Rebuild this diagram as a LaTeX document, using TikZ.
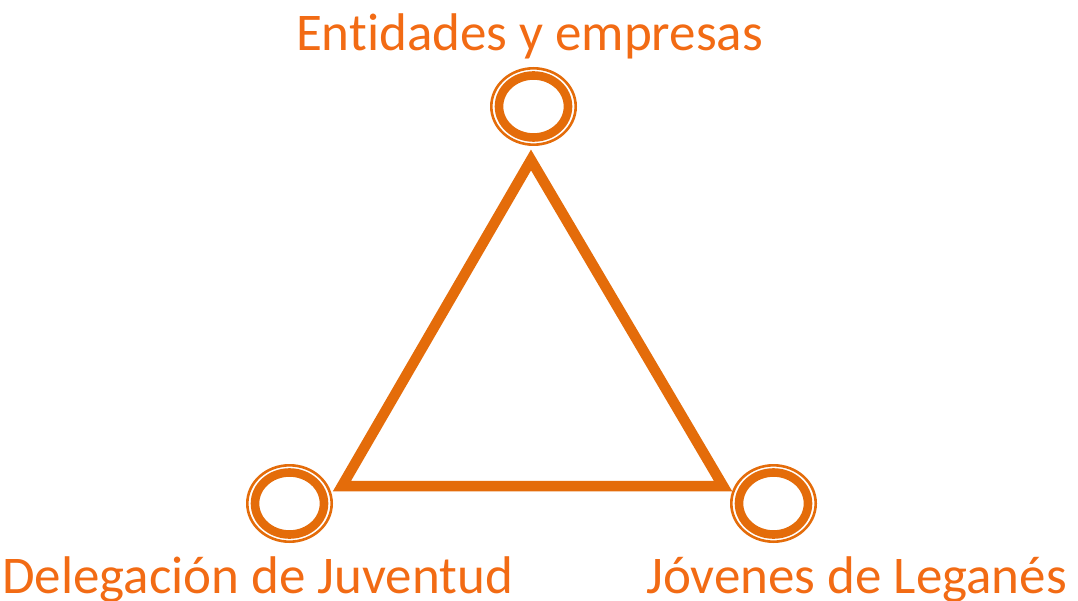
\documentclass[tikz,border=0pt]{standalone}
\usepackage{fontspec}
\setmainfont[Ligatures={NoCommon}]{Carlito}
\usetikzlibrary{shapes.geometric}
\definecolor{shapeor}{HTML}{E46C0A}
\definecolor{textor}{HTML}{F26B14}
\tikzset{
  lbl/.style={anchor=base, inner sep=0pt, text=textor, font=\fontsize{53}{53}\selectfont},
  ringouter/.style={ellipse, draw=shapeor, line width=2.6pt, minimum width=84.4pt, minimum height=76.4pt, inner sep=0pt, outer sep=0pt},
  ringinner/.style={ellipse, draw=shapeor, fill=white, line width=8.6pt, minimum width=69pt, minimum height=62pt, inner sep=0pt, outer sep=0pt},
  tri/.style={draw=shapeor, line width=10.5pt, miter limit=10, line join=miter}
}
\begin{document}
\begin{tikzpicture}[x=1pt,y=-1pt]
\useasboundingbox (0,0) rectangle (1078,601);
% triangle vertices
\coordinate (A) at (531,160);
\coordinate (B) at (342,486);
\coordinate (C) at (723,486);
\draw[tri] (A) -- (B) -- (C) -- cycle;
% rings
\node[ringouter] (topo) at (533.5,106.5) {};
\node[ringinner] (topi) at (533.5,106.5) {};
\node[ringouter] (lefto) at (289.5,503.5) {};
\node[ringinner] (lefti) at (289.5,503.5) {};
\node[ringouter] (righto) at (773.5,503.5) {};
\node[ringinner] (righti) at (773.5,503.5) {};
% labels
\node[lbl] (t1) at (529.5,51) {Entidades y empresas};
\node[lbl] (t2) at (257.5,593) {Delegación de Juventud};
\node[lbl] (t3) at (856.5,593) {Jóvenes de Leganés};
\end{tikzpicture}
\end{document}
